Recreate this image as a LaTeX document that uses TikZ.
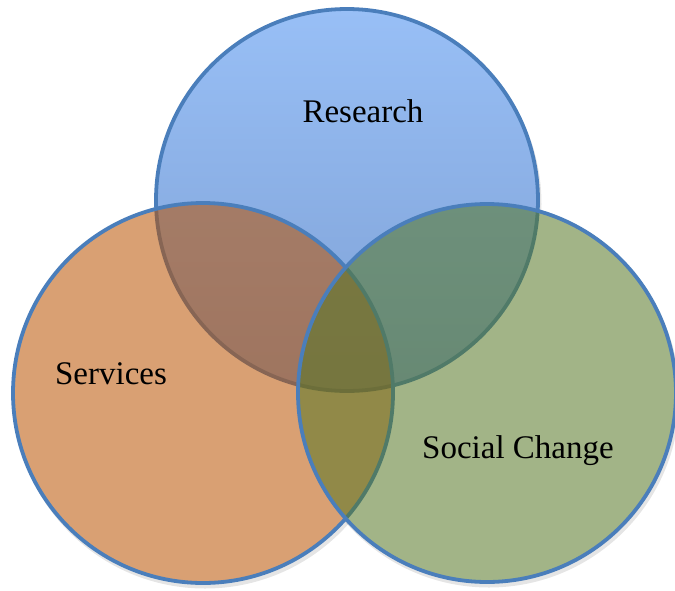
\documentclass[tikz,border=0pt]{standalone}
\usepackage{fontspec}
\setmainfont{Liberation Serif}
\definecolor{ringblue}{RGB}{74,126,187}
\definecolor{restop}{RGB}{152,191,246}
\definecolor{resbot}{RGB}{126,160,212}
\definecolor{servfill}{RGB}{186,82,0}
\definecolor{socfill}{RGB}{86,119,37}
\tikzset{
  ring/.style={draw=ringblue, line width=3.8pt},
  lbl/.style={anchor=base, font=\fontsize{33}{38}\selectfont, text=black, inner sep=0pt}
}
\begin{document}
\begin{tikzpicture}[x=1pt,y=-1pt]
\useasboundingbox (0,0) rectangle (675,590);
% shadows (visible only outside the circles)
\foreach \cx/\cy/\r in {347/200/191, 203/393/190, 487/393/189}
  \fill[black, opacity=0.10] (\cx+2,\cy+4) circle (\r+1.5);
\foreach \cx/\cy/\r in {347/200/191, 203/393/190, 487/393/189}
  \fill[white] (\cx,\cy) circle (\r);
% Research
\shade[top color=restop, bottom color=resbot] (347,200) circle (191);
\draw[ring] (347,200) circle (191);
% Services
\fill[servfill, fill opacity=0.55] (203,393) circle (190);
\draw[ring] (203,393) circle (190);
% Social Change
\fill[socfill, fill opacity=0.55] (487,393) circle (189);
\draw[ring] (487,393) circle (189);
% labels
\node[lbl] (research) at (363,122) {Research};
\node[lbl] (services) at (111,384) {Services};
\node[lbl] (social) at (518,458) {Social Change};
\end{tikzpicture}
\end{document}
